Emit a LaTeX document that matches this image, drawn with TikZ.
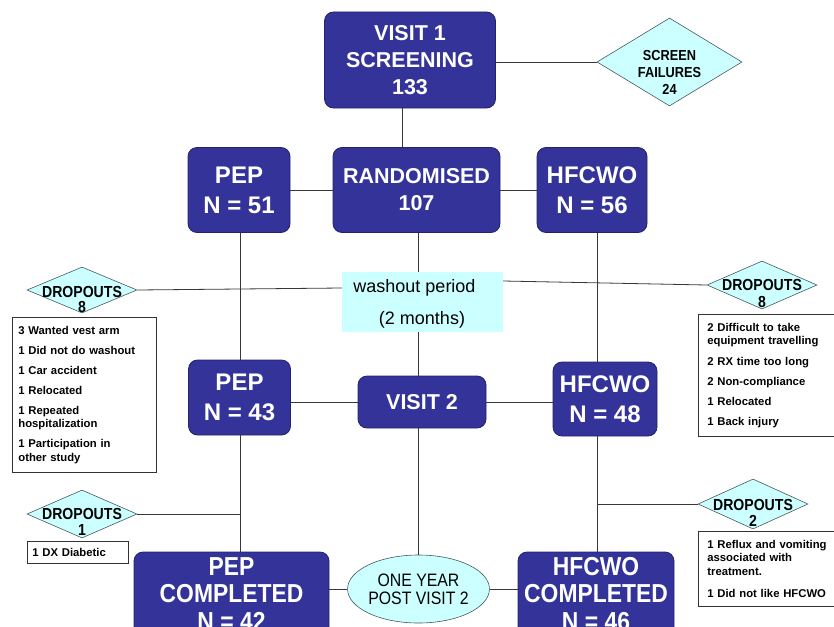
\documentclass[tikz,border=0pt]{standalone}
\usepackage{fontspec}
\usepackage{graphicx}
\setmainfont{Liberation Sans}
\usetikzlibrary{shapes.geometric}
\definecolor{boxblue}{RGB}{51,51,153}
\definecolor{boxedge}{RGB}{35,35,105}
\definecolor{lightcyan}{RGB}{204,255,255}
\definecolor{diamedge}{RGB}{70,90,95}
\definecolor{linecol}{RGB}{55,55,55}
\newcommand{\cnd}[1]{\scalebox{0.88}[1]{#1}}
\begin{document}
\begin{tikzpicture}[x=1pt,y=-1pt,
  every node/.style={inner sep=0pt},
  bluebox/.style={draw=boxedge, line width=0.8pt, fill=boxblue, rounded corners=9pt,
    text=white, align=center, font=\bfseries\fontsize{21.5}{27}\selectfont},
  bigbox/.style={bluebox, font=\bfseries\fontsize{24}{30}\selectfont},
  endbox/.style={bluebox, font=\bfseries\fontsize{26}{27.5}\selectfont},
  cyandiam/.style={diamond, draw=diamedge, fill=lightcyan, line width=0.6pt, inner sep=0pt},
  diamtext/.style={font=\bfseries\fontsize{16}{17}\selectfont, align=center},
  listbox/.style={draw=black!80, line width=0.7pt, fill=white, anchor=north west,
    inner xsep=6pt, inner ysep=0pt, align=left, font=\bfseries\fontsize{11.3}{13.5}\selectfont},
  conn/.style={draw=linecol, line width=0.8pt},
]
\useasboundingbox (0,0) rectangle (834,626);
\clip (0,0) rectangle (834,626);

% column coordinates
\coordinate (xv) at (402,0);
\coordinate (xc) at (418,0);
\coordinate (xp) at (240,0);
\coordinate (xh) at (597,0);

% top
\node[bluebox, minimum width=171pt, minimum height=96pt] (v1) at (410,60) {VISIT 1\\SCREENING\\133};
\node[cyandiam, minimum width=145pt, minimum height=88pt] (sf) at (669.5,62) {};
\node[font=\bfseries\fontsize{14.5}{17}\selectfont, align=center] (sft) at (669.5,72) {\cnd{SCREEN}\\\cnd{FAILURES}\\\cnd{24}};

% randomised row
\node[bluebox, minimum width=167pt, minimum height=85pt] (rand) at (416.5,190) {RANDOMISED\\107};
\node[bigbox, minimum width=102pt, minimum height=85pt] (pep1) at (239,190) {PEP\\N = 51};
\node[bigbox, minimum width=110pt, minimum height=85pt] (hf1) at (592,190) {HFCWO\\N = 56};

% washout
\node[fill=lightcyan, minimum width=161pt, minimum height=60pt] (wash) at (422.5,302) {};
\node[font=\fontsize{18}{20}\selectfont] (wt1) at (414.5,288) {washout period};
\node[font=\fontsize{18}{20}\selectfont] (wt2) at (422,320) {(2 months)};

% dropouts 8 left
\node[cyandiam, minimum width=110pt, minimum height=46pt] (dl) at (82,290) {};
\node[diamtext] (dlt) at (82,292) {\cnd{DROPOUTS}};
\node[diamtext] (dln) at (82,307) {\cnd{8}};
\node[listbox, text width=132pt, minimum height=155pt] (ll) at (12,317)
  {3 Wanted vest arm\\[6.5pt]
   1 Did not do washout\\[6.5pt]
   1 Car accident\\[6.5pt]
   1 Relocated\\[6.5pt]
   1 Repeated\\hospitalization\\[6.5pt]
   1 Participation in\\other study};

% dropouts 8 right
\node[cyandiam, minimum width=110pt, minimum height=48pt] (dr) at (762,285) {};
\node[diamtext] (drt) at (762,285) {\cnd{DROPOUTS}};
\node[diamtext] (drn) at (762,302) {\cnd{8}};
\node[listbox, inner xsep=9pt, text width=124pt, minimum height=122pt] (rl) at (698,314)
  {2 Difficult to take\\equipment travelling\\[7pt]
   2 RX time too long\\[6.5pt]
   2 Non-compliance\\[6.5pt]
   1 Relocated\\[6.5pt]
   1 Back injury};

% visit 2 row
\node[bigbox, minimum width=102pt, minimum height=75pt] (pep2) at (239.5,397.5) {PEP\\N = 43};
\node[bluebox, minimum width=128pt, minimum height=52pt] (v2) at (422,402) {VISIT 2};
\node[bigbox, minimum width=104pt, minimum height=74pt] (hf2) at (605,399) {HFCWO\\N = 48};

% dropouts 1
\node[cyandiam, minimum width=110pt, minimum height=48pt] (d1) at (82,514) {};
\node[diamtext] (d1t) at (82,514) {\cnd{DROPOUTS}};
\node[diamtext] (d1n) at (82,530) {\cnd{1}};
\node[listbox, inner xsep=5pt, text width=91pt, minimum height=22pt] (l1) at (27,541) {1 DX Diabetic};

% dropouts 2
\node[cyandiam, minimum width=110pt, minimum height=50pt] (d2) at (753,504) {};
\node[diamtext] (d2t) at (753,505) {\cnd{DROPOUTS}};
\node[diamtext] (d2n) at (753,521) {\cnd{2}};
\node[listbox, inner xsep=9pt, text width=124pt, minimum height=75pt] (l2) at (698,531)
  {1 Reflux and vomiting\\associated with\\treatment.\\[9pt]
   1 Did not like HFCWO};

% bottom row
\node[endbox, minimum width=195pt, minimum height=84pt] (pepc) at (231.5,594) {\cnd{PEP}\\\cnd{COMPLETED}\\\cnd{N = 42}};
\node[ellipse, draw=diamedge, fill=lightcyan, line width=0.6pt, minimum width=137pt, minimum height=68pt,
  font=\fontsize{18}{18}\selectfont, align=center] (oy) at (418.5,589) {\cnd{ONE YEAR}\\\cnd{POST VISIT 2}};
\node[endbox, minimum width=156pt, minimum height=84pt] (hfc) at (596,594) {\cnd{HFCWO}\\\cnd{COMPLETED}\\\cnd{N = 46}};

% connectors
\draw[conn] (v1.east |- sf.west) -- (sf.west);
\draw[conn] (v1.south -| xv) -- (rand.north -| xv);
\draw[conn] (pep1.east) -- (rand.west);
\draw[conn] (rand.east) -- (hf1.west);
\draw[conn] (rand.south -| xc) -- (wash.north -| xc);
\draw[conn] (wash.south -| xc) -- (v2.north -| xc);
\draw[conn] (v2.south -| xc) -- (oy.north -| xc);
\draw[conn] (pep1.south -| xp) -- (pep2.north -| xp);
\draw[conn] (pep2.south -| xp) -- (pepc.north -| xp);
\draw[conn] (hf1.south -| xh) -- (hf2.north -| xh);
\draw[conn] (hf2.south -| xh) -- (hfc.north -| xh);
\draw[conn] (dl.east) -- ([yshift=14pt]wash.west);
\draw[conn] ([yshift=21pt]wash.east) -- (dr.west);
\draw[conn] (pep2.east |- v2.west) -- (v2.west);
\draw[conn] (v2.east) -- (v2.east -| hf2.west);
\draw[conn] (d1.east) -- (d1.east -| xp);
\draw[conn] (d2.west) -- (d2.west -| xh);
\draw[conn] (pepc.east |- oy.west) -- (oy.west);
\draw[conn] (oy.east) -- (oy.east -| hfc.west);
\end{tikzpicture}
\end{document}
